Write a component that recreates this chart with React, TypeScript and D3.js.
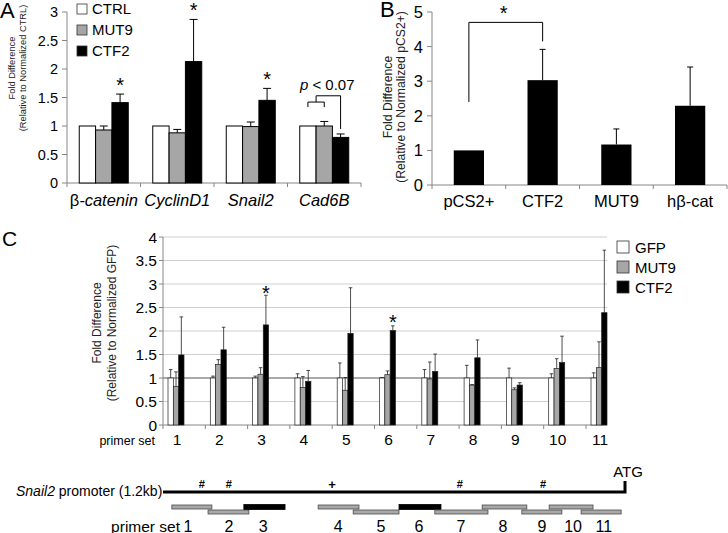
import React from 'react';
import * as d3 from 'd3';

const FONT = "'Liberation Sans', Arial, Helvetica, sans-serif";

// ---------- Panel A data ----------
const genes = ["β-catenin", "CyclinD1", "Snail2", "Cad6B"];
const seriesA = ["CTRL", "MUT9", "CTF2"];
const ctrlA = [1, 1, 1, 1];
const ctrlAErr = [0, 0, 0, 0];
const mut9A = [0.93, 0.88, 0.99, 1.0];
const mut9AErr = [0.07, 0.06, 0.08, 0.08];
const ctf2A = [1.41, 2.13, 1.45, 0.8];
const ctf2AErr = [0.15, 0.74, 0.21, 0.06];
const ticksA = [0, 0.5, 1, 1.5, 2, 2.5, 3];
const starsA = ["β-catenin", "CyclinD1", "Snail2"];

// ---------- Panel B data ----------
const constructs = ["pCS2+", "CTF2", "MUT9", "hβ-cat"];
const valuesB = [1, 3.03, 1.17, 2.29];
const errB = [0, 0.89, 0.45, 1.12];
const ticksB = [0, 1, 2, 3, 4, 5];

// ---------- Panel C data ----------
const primerSets = ["1", "2", "3", "4", "5", "6", "7", "8", "9", "10", "11"];
const seriesC = ["GFP", "MUT9", "CTF2"];
const gfpC = [1, 1, 1, 1, 1, 1, 1, 1, 1, 1, 1];
const gfpCErr = [0.18, 0.04, 0.04, 0.09, 0.32, 0.01, 0.18, 0.27, 0.21, 0.09, 0.11];
const mut9C = [0.82, 1.29, 1.08, 0.8, 0.74, 1.07, 0.98, 0.85, 0.75, 1.2, 1.22];
const mut9CErr = [0.31, 0.1, 0.14, 0.23, 0.27, 0.08, 0.36, 0.01, 0.04, 0.21, 0.55];
const ctf2C = [1.49, 1.6, 2.13, 0.93, 1.95, 2.01, 1.14, 1.43, 0.85, 1.33, 2.39];
const ctf2CErr = [0.81, 0.48, 0.63, 0.23, 0.97, 0.1, 0.37, 0.38, 0.05, 0.56, 1.33];
const ticksC = [0, 0.5, 1, 1.5, 2, 2.5, 3, 3.5, 4];
const starsC = ["3", "6"];
const starsCLevel = [2.92, 2.3];

// ---------- Promoter diagram data (bp along 1.2 kb) ----------
const promoterLength = 1200;
const primerStart = [23, 117, 210, 403, 494, 613, 706, 829, 932, 1003, 1086];
const primerEnd = [127, 223, 317, 509, 613, 722, 844, 945, 1036, 1117, 1190];
const primerRow = [1, 2, 1, 1, 2, 1, 2, 1, 2, 1, 2];
const primerHighlight = [false, false, true, false, false, true, false, false, false, false, false];
const primerLabelPos = [65, 171, 260, 455, 566, 665, 774, 883, 984, 1065, 1145];
const hashSites = [101, 171, 771, 987];
const plusSites = [439];

const FILL: Record<string, string> = { CTRL: "#ffffff", GFP: "#ffffff", MUT9: "#a6a6a6", CTF2: "#000000" };
const AXIS = "#868686";

function fmt(v: number) {
  return String(v);
}

function PanelA() {
  const y = d3.scaleLinear().domain([0, 3]).range([183, 12]);
  const x = d3.scaleBand<string>().domain(genes).range([67, 361]).paddingInner(1 / 3).paddingOuter(1 / 6);
  const sub = d3.scaleBand<string>().domain(seriesA).range([0, x.bandwidth()]);
  const vals: Record<string, number[]> = { CTRL: ctrlA, MUT9: mut9A, CTF2: ctf2A };
  const errs: Record<string, number[]> = { CTRL: ctrlAErr, MUT9: mut9AErr, CTF2: ctf2AErr };
  const step = x.step();
  const boundaries = d3.range(genes.length + 1).map((i) => 67 + i * step);
  const cad = "Cad6B";
  const cx = (s: string) => (x(cad) as number) + (sub(s) as number) + sub.bandwidth() / 2;
  const b1y = y(1.42);
  const b2y = y(1.53);
  const midCM = (cx("CTRL") + cx("MUT9")) / 2;
  const labelMid = 68;
  return (
    <g>
      <text x={0} y={18} fontSize={22} fontFamily={FONT}>A</text>
      <g transform={`translate(15,${labelMid}) rotate(-90)`}>
        <text textAnchor="middle" fontSize={9.3} fontFamily={FONT} fill="#222">Fold Difference</text>
      </g>
      <g transform={`translate(26,${labelMid}) rotate(-90)`}>
        <text textAnchor="middle" fontSize={9.3} fontFamily={FONT} fill="#222">(Relative to Normalized CTRL)</text>
      </g>
      <line x1={67} x2={67} y1={y(3)} y2={y(0)} stroke={AXIS} />
      {ticksA.map((t) => (
        <g key={t}>
          <line x1={62} x2={67} y1={y(t)} y2={y(t)} stroke={AXIS} />
          <text x={58} y={y(t) + 5} textAnchor="end" fontSize={14.5} fontFamily={FONT}>{fmt(t)}</text>
        </g>
      ))}
      <line x1={67} x2={361} y1={y(0)} y2={y(0)} stroke={AXIS} />
      {boundaries.map((b, i) => (
        <line key={i} x1={b} x2={b} y1={y(0)} y2={y(0) + 4} stroke={AXIS} />
      ))}
      {genes.map((g, gi) => (
        <g key={g}>
          {seriesA.map((s) => {
            const v = vals[s][gi];
            const e = errs[s][gi];
            const bx = (x(g) as number) + (sub(s) as number);
            const w = sub.bandwidth();
            return (
              <g key={s}>
                <rect x={bx} y={y(v)} width={w} height={y(0) - y(v)} fill={FILL[s]} stroke="#000" strokeWidth={1} />
                {e > 0 && (
                  <g stroke="#000" strokeWidth={1}>
                    <line x1={bx + w / 2} x2={bx + w / 2} y1={y(v)} y2={y(v + e)} />
                    <line x1={bx + w / 2 - 4} x2={bx + w / 2 + 4} y1={y(v + e)} y2={y(v + e)} />
                  </g>
                )}
              </g>
            );
          })}
          <text x={(x(g) as number) + x.bandwidth() / 2} y={206} textAnchor="middle" fontSize={16.5} fontFamily={FONT}>
            {g.startsWith("β") ? (
              <>
                <tspan>β</tspan>
                <tspan fontStyle="italic">{g.slice(1)}</tspan>
              </>
            ) : (
              <tspan fontStyle="italic">{g}</tspan>
            )}
          </text>
        </g>
      ))}
      {starsA.map((g) => {
        const gi = genes.indexOf(g);
        const top = ctf2A[gi] + ctf2AErr[gi];
        return (
          <text key={g} x={(x(g) as number) + (sub("CTF2") as number) + sub.bandwidth() / 2} y={y(top) - 2} textAnchor="middle" fontSize={20} fontFamily={FONT}>*</text>
        );
      })}
      <g stroke="#000" strokeWidth={1} fill="none">
        <path d={`M${cx("CTRL")},${b1y + 5}V${b1y}H${cx("MUT9")}V${b1y + 5}`} />
        <path d={`M${midCM},${b1y}V${b2y}H${cx("CTF2")}V${y(0.86) - 5}`} />
      </g>
      <text x={(cx("CTRL") + cx("CTF2")) / 2 + 3} y={90} textAnchor="middle" fontSize={15} fontFamily={FONT}>
        <tspan fontStyle="italic">p</tspan>
        <tspan> &lt; 0.07</tspan>
      </text>
      <g transform="translate(77,4)">
        {seriesA.map((s, i) => (
          <g key={s} transform={`translate(0,${i * 21})`}>
            <rect x={0} y={0} width={10} height={10} fill={FILL[s]} stroke="#333" strokeWidth={0.8} />
            <text x={15} y={10} fontSize={15} fontFamily={FONT}>{s}</text>
          </g>
        ))}
      </g>
    </g>
  );
}

function PanelB() {
  const y = d3.scaleLinear().domain([0, 5]).range([185, 12]);
  const x = d3.scaleBand<string>().domain(constructs).range([432, 727]).paddingInner(0.59).paddingOuter(0.295);
  const step = x.step();
  const boundaries = d3.range(constructs.length + 1).map((i) => 432 + i * step);
  const c = (k: string) => (x(k) as number) + x.bandwidth() / 2;
  return (
    <g>
      <text x={380} y={17} fontSize={22} fontFamily={FONT}>B</text>
      <g transform={`translate(392,97) rotate(-90)`}>
        <text textAnchor="middle" fontSize={12.2} fontFamily={FONT} fill="#222">Fold Difference</text>
      </g>
      <g transform={`translate(405,97) rotate(-90)`}>
        <text textAnchor="middle" fontSize={12.2} fontFamily={FONT} fill="#222">(Relative to Normalized pCS2+)</text>
      </g>
      <line x1={432} x2={432} y1={y(5)} y2={y(0)} stroke={AXIS} />
      {ticksB.map((t) => (
        <g key={t}>
          <line x1={427} x2={432} y1={y(t)} y2={y(t)} stroke={AXIS} />
          <text x={423} y={y(t) + 6} textAnchor="end" fontSize={16.5} fontFamily={FONT}>{fmt(t)}</text>
        </g>
      ))}
      <line x1={432} x2={727} y1={y(0)} y2={y(0)} stroke={AXIS} />
      {boundaries.map((b, i) => (
        <line key={i} x1={b} x2={b} y1={y(0)} y2={y(0) + 4} stroke={AXIS} />
      ))}
      {constructs.map((k, i) => {
        const v = valuesB[i];
        const e = errB[i];
        return (
          <g key={k}>
            <rect x={x(k)} y={y(v)} width={x.bandwidth()} height={y(0) - y(v)} fill="#000" />
            {e > 0 && (
              <g stroke="#000" strokeWidth={1}>
                <line x1={c(k)} x2={c(k)} y1={y(v)} y2={y(v + e)} />
                <line x1={c(k) - 3} x2={c(k) + 3} y1={y(v + e)} y2={y(v + e)} />
              </g>
            )}
            <text x={c(k)} y={207} textAnchor="middle" fontSize={16.5} fontFamily={FONT}>{k}</text>
          </g>
        );
      })}
      <path d={`M${c("pCS2+")},${y(2.4)}V${y(4.7)}H${c("CTF2")}V${y(4.15)}`} fill="none" stroke="#000" strokeWidth={1} />
      <text x={(c("pCS2+") + c("CTF2")) / 2 - 2} y={y(4.7) - 2} textAnchor="middle" fontSize={20} fontFamily={FONT}>*</text>
    </g>
  );
}

function PanelC() {
  const y = d3.scaleLinear().domain([0, 4]).range([425, 237]);
  const step = 42.3;
  const x = d3.scaleBand<string>().domain(primerSets).range([163, 163 + step * primerSets.length]);
  const sub = d3.scaleBand<string>().domain(seriesC).range([5, 21]);
  const right = 607;
  const vals: Record<string, number[]> = { GFP: gfpC, MUT9: mut9C, CTF2: ctf2C };
  const errs: Record<string, number[]> = { GFP: gfpCErr, MUT9: mut9CErr, CTF2: ctf2CErr };
  const groupCenter = (p: string) => (x(p) as number) + 13;
  return (
    <g>
      <text x={2} y={246} fontSize={21} fontFamily={FONT}>C</text>
      <g transform={`translate(101,323) rotate(-90)`}>
        <text textAnchor="middle" fontSize={12} fontFamily={FONT} fill="#222">Fold Difference</text>
      </g>
      <g transform={`translate(116,323) rotate(-90)`}>
        <text textAnchor="middle" fontSize={12} fontFamily={FONT} fill="#222">(Relative to Normalized GFP)</text>
      </g>
      {ticksC.map((t) => (
        <g key={t}>
          <line x1={163} x2={right} y1={y(t)} y2={y(t)} stroke={t === 1 ? "#8c8c8c" : t === 0 ? AXIS : "#cfcfcf"} strokeWidth={t === 1 ? 1.3 : 1} />
          <line x1={159} x2={163} y1={y(t)} y2={y(t)} stroke={AXIS} />
          <text x={157} y={y(t) + 5.5} textAnchor="end" fontSize={15.5} fontFamily={FONT}>{fmt(t)}</text>
        </g>
      ))}
      <line x1={163} x2={163} y1={y(4)} y2={y(0)} stroke={AXIS} />
      {primerSets.map((p) => (
        <line key={p} x1={x(p)} x2={x(p)} y1={y(0)} y2={y(0) + 4} stroke={AXIS} />
      ))}
      {primerSets.map((p, pi) => (
        <g key={p}>
          {seriesC.map((s) => {
            const v = vals[s][pi];
            const e = errs[s][pi];
            const bx = (x(p) as number) + (sub(s) as number);
            const w = sub.bandwidth();
            return (
              <g key={s}>
                <rect x={bx} y={y(v)} width={w} height={y(0) - y(v)} fill={FILL[s]} stroke="#222" strokeWidth={0.7} />
                {e > 0 && (
                  <g stroke="#222" strokeWidth={0.8}>
                    <line x1={bx + w / 2} x2={bx + w / 2} y1={y(v)} y2={y(v + e)} />
                    <line x1={bx + w / 2 - 1.8} x2={bx + w / 2 + 1.8} y1={y(v + e)} y2={y(v + e)} />
                  </g>
                )}
              </g>
            );
          })}
          <text x={groupCenter(p) + 1} y={445} textAnchor="middle" fontSize={15.5} fontFamily={FONT}>{p}</text>
        </g>
      ))}
      <text x={155} y={445} textAnchor="end" fontSize={12.5} fontFamily={FONT}>primer set</text>
      {starsC.map((p, i) => (
        <text key={p} x={(x(p) as number) + (sub("CTF2") as number) + sub.bandwidth() / 2} y={y(starsCLevel[i]) + 12} textAnchor="middle" fontSize={20} fontFamily={FONT}>*</text>
      ))}
      <g transform="translate(617,241)">
        {seriesC.map((s, i) => (
          <g key={s} transform={`translate(0,${i * 20})`}>
            <rect x={0} y={0} width={12} height={12} fill={FILL[s]} stroke="#333" strokeWidth={0.8} />
            <text x={18} y={12} fontSize={15} fontFamily={FONT}>{s}</text>
          </g>
        ))}
      </g>
    </g>
  );
}

function Promoter() {
  const x = d3.scaleLinear().domain([0, promoterLength]).range([163, 625]);
  const lineY = 492;
  return (
    <g>
      <text x={16} y={496} fontSize={14} fontFamily={FONT}>
        <tspan fontStyle="italic">Snail2</tspan>
        <tspan> promoter (1.2kb)</tspan>
      </text>
      <path d={`M${x(0)},${lineY}H${x(promoterLength)}V${lineY - 11}`} fill="none" stroke="#000" strokeWidth={3} />
      <text x={x(promoterLength) + 3} y={477} textAnchor="middle" fontSize={15} fontFamily={FONT}>ATG</text>
      {hashSites.map((s, i) => (
        <text key={"h" + i} x={x(s)} y={488} textAnchor="middle" fontSize={11} fontWeight="bold" fontFamily={FONT}>#</text>
      ))}
      {plusSites.map((s, i) => (
        <text key={"p" + i} x={x(s)} y={489} textAnchor="middle" fontSize={13} fontWeight="bold" fontFamily={FONT}>+</text>
      ))}
      {primerSets.map((p, i) => {
        const top = primerRow[i] === 1 ? 505 : 510;
        const hl = primerHighlight[i];
        return (
          <rect key={p} x={x(primerStart[i])} y={hl ? top - 0.5 : top} width={x(primerEnd[i]) - x(primerStart[i])} height={hl ? 5 : 4} fill={hl ? "#000" : "#a8a8a8"} stroke={hl ? "#000" : "#4a4a4a"} strokeWidth={0.8} />
        );
      })}
      {primerSets.map((p, i) => (
        <text key={"l" + p} x={x(primerLabelPos[i])} y={532} textAnchor="middle" fontSize={16} fontFamily={FONT}>{p}</text>
      ))}
      <text x={180} y={532} textAnchor="end" fontSize={15.5} fontFamily={FONT}>primer set</text>
    </g>
  );
}

export default function App() {
  return (
    <svg width={728} height={533} style={{ position: "absolute", left: 0, top: 0, background: "#fff" }} fontFamily={FONT}>
      <rect x={0} y={0} width={728} height={533} fill="#fff" />
      <PanelA />
      <PanelB />
      <PanelC />
      <Promoter />
    </svg>
  );
}
